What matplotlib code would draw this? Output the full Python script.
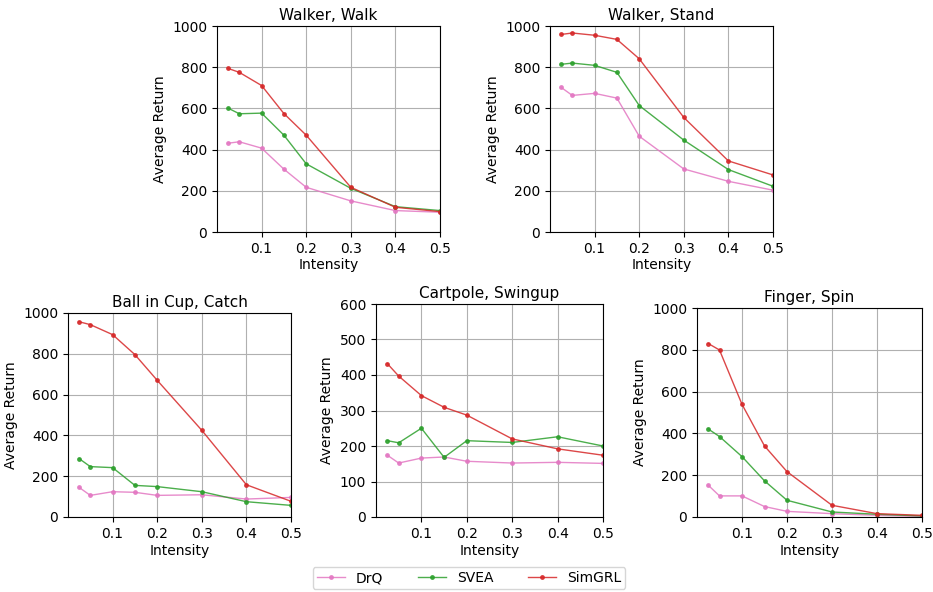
import matplotlib.pyplot as plt
import numpy as np

# Distraction intensity levels shared by every task
intensity = [0.025, 0.05, 0.1, 0.15, 0.2, 0.3, 0.4, 0.5]

methods = ['DrQ', 'SVEA', 'SimGRL']
colors = ['tab:pink', 'tab:green', 'tab:red']

# Average return per task, one list per method (DrQ, SVEA, SimGRL)
walker_walk_drq = [431, 438, 407, 305, 217, 151, 104, 96]
walker_walk_svea = [601, 574, 577, 470, 331, 212, 123, 104]
walker_walk_simgrl = [794, 775, 711, 575, 470, 217, 120, 99]

walker_stand_drq = [702, 663, 673, 650, 465, 306, 246, 203]
walker_stand_svea = [814, 820, 809, 775, 614, 446, 303, 222]
walker_stand_simgrl = [959, 966, 955, 935, 841, 556, 345, 277]

ball_cup_drq = [145, 106, 124, 121, 106, 109, 88, 96]
ball_cup_svea = [286, 247, 242, 155, 149, 124, 75, 57]
ball_cup_simgrl = [957, 943, 894, 796, 670, 425, 158, 77]

cartpole_drq = [174, 152, 166, 169, 157, 152, 154, 151]
cartpole_svea = [215, 209, 250, 168, 215, 210, 226, 200]
cartpole_simgrl = [432, 397, 342, 309, 287, 220, 192, 174]

finger_drq = [152, 101, 101, 50, 27, 16, 8, 3]
finger_svea = [421, 385, 289, 173, 80, 24, 13, 5]
finger_simgrl = [830, 799, 539, 340, 217, 56, 16, 8]

tasks = [
    ('Walker, Walk', [walker_walk_drq, walker_walk_svea, walker_walk_simgrl], 1000),
    ('Walker, Stand', [walker_stand_drq, walker_stand_svea, walker_stand_simgrl], 1000),
    ('Ball in Cup, Catch', [ball_cup_drq, ball_cup_svea, ball_cup_simgrl], 1000),
    ('Cartpole, Swingup', [cartpole_drq, cartpole_svea, cartpole_simgrl], 600),
    ('Finger, Spin', [finger_drq, finger_svea, finger_simgrl], 1000),
]

W, H = 933, 592
# axes boxes in pixels: left, top, right, bottom
boxes = [
    (217, 26, 440, 232),
    (550, 26, 773, 232),
    (68, 313, 291, 517),
    (376, 304, 603, 517),
    (697, 308, 922, 517),
]

fig = plt.figure(figsize=(W / 100, H / 100), dpi=100)

for (title, series, ymax), (l, t, r, b) in zip(tasks, boxes):
    ax = fig.add_axes([l / W, 1 - b / H, (r - l) / W, (b - t) / H])
    for name, vals, c in zip(methods, series, colors):
        ax.plot(intensity, vals, color=c, marker='o', markersize=2.5,
                linewidth=1, alpha=0.85, label=name)
    ax.set_xlim(0, 0.5)
    ax.set_ylim(0, ymax)
    ax.set_xticks([0.1, 0.2, 0.3, 0.4, 0.5])
    ax.grid(True)
    ax.set_title(title, fontsize=11, pad=4)
    ax.set_xlabel('Intensity', fontsize=10, labelpad=2)
    ax.set_ylabel('Average Return', fontsize=10)
    ax.tick_params(labelsize=10)

handles, labels = ax.get_legend_handles_labels()
fig.legend(handles, labels, loc='center', ncol=3, fontsize=10,
           bbox_to_anchor=(469 / W, 1 - 578 / H), columnspacing=2.5,
           handlelength=2, borderpad=0.3)

fig.savefig('out.png', dpi=100)
